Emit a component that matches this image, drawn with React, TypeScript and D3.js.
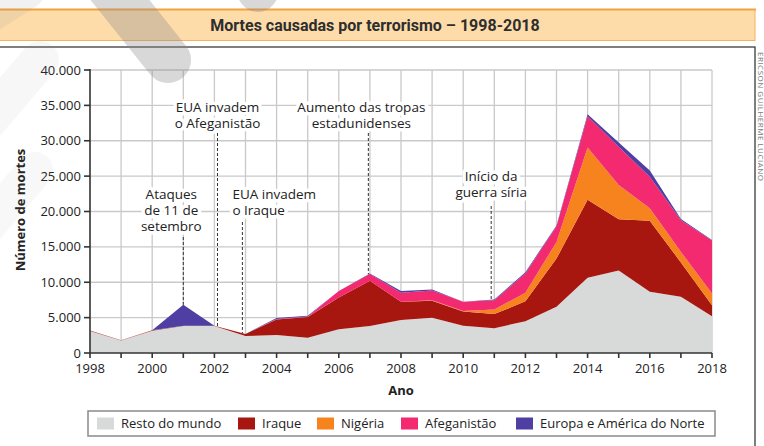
import * as d3 from "d3";

const years = d3.range(1998, 2019);

// deaths per series, 1998-2018
const restoDoMundo = [3100, 1750, 3150, 3800, 3800, 2400, 2550, 2150, 3350, 3800, 4650, 5000, 3850, 3500, 4500, 6550, 10650, 11650, 8650, 7950, 5200];
const iraque = [80, 60, 60, 60, 60, 300, 2200, 2950, 4500, 6400, 2600, 2400, 2000, 2000, 2800, 6800, 11000, 7250, 10050, 4850, 1550];
const nigeria = [0, 0, 0, 0, 0, 0, 0, 0, 0, 0, 0, 50, 100, 650, 1200, 2350, 7400, 4850, 1750, 1500, 1650];
const afeganistao = [0, 0, 0, 0, 0, 0, 50, 50, 930, 950, 1250, 1400, 1300, 1300, 2750, 2200, 4400, 5400, 4450, 4450, 7500];
const europaAmerica = [0, 0, 0, 2950, 0, 0, 150, 100, 0, 80, 250, 120, 0, 120, 180, 120, 300, 600, 900, 200, 60];

const seriesNames = ["Resto do mundo", "Iraque", "Nigéria", "Afeganistão", "Europa e América do Norte"];
const seriesColors = ["#d8d9d9", "#a8170f", "#f7831f", "#f42a70", "#4f3fa3"];
const seriesValues = [restoDoMundo, iraque, nigeria, afeganistao, europaAmerica];

const yTicks = d3.range(0, 40001, 5000);

const annotations = [
  { year: 2001, lines: ["Ataques", "de 11 de", "setembro"], anchor: "middle", dx: -12, top: 199, lineTop: 237 },
  { year: 2002.1, lines: ["EUA invadem", "o Afeganistão"], anchor: "middle", dx: 0, top: 112, lineTop: 133 },
  { year: 2002.9, lines: ["EUA invadem", "o Iraque"], anchor: "start", dx: -10, top: 199, lineTop: 222 },
  { year: 2006.95, lines: ["Aumento das tropas", "estadunidenses"], anchor: "middle", dx: -7, top: 112, lineTop: 133 },
  { year: 2010.9, lines: ["Início da", "guerra síria"], anchor: "middle", dx: 0, top: 181, lineTop: 206 },
];

const legendX = [97, 238, 317, 401, 516];

const W = 764;
const H = 446;
const font = "'Open Sans', 'Noto Sans', sans-serif";

export default function App() {
  const x = d3.scaleLinear().domain([1998, 2018]).range([90, 712]);
  const y = d3.scaleLinear().domain([0, 40000]).range([353, 70]);

  const table = years.map((yr, i) => {
    const row: any = { year: yr };
    seriesNames.forEach((n, k) => (row[n] = seriesValues[k][i]));
    return row;
  });
  const stacked = d3.stack().keys(seriesNames)(table);
  const area = d3
    .area<any>()
    .x((d) => x(d.data.year))
    .y0((d) => y(d[0]))
    .y1((d) => y(d[1]));

  const totals = years.map((_, i) => d3.sum(seriesValues, (s) => s[i]));
  const totalAt = (yr: number) => {
    const i = Math.min(Math.floor(yr - 1998), years.length - 2);
    const t = yr - 1998 - i;
    return totals[i] * (1 - t) + totals[i + 1] * t;
  };

  const fmt = (v: number) => d3.format(",")(v).replace(/,/g, ".");

  return (
    <svg width={W} height={H} style={{ position: "absolute", left: 0, top: 0 }} fontFamily={font}>
      <rect width={W} height={H} fill="#fff" />

      {/* title band */}
      <rect x={-1} y={9.5} width={756} height={31} fill="#fddcaa" stroke="#f6b25a" strokeWidth={1} />
      <line x1={0} x2={756} y1={9.5} y2={9.5} stroke="#f4a23c" strokeWidth={2} />
      <text
        x={375}
        y={31}
        textAnchor="middle"
        fontFamily="Roboto, 'Open Sans', sans-serif"
        fontWeight="bold"
        fontSize={16}
        fill="#2e2e2e"
      >
        Mortes causadas por terrorismo – 1998-2018
      </text>

      {/* frame */}
      <rect x={-2} y={47} width={757} height={420} fill="none" stroke="#3a3a3a" strokeWidth={1.3} />

      {/* grid */}
      <g stroke="#c9c9c9" strokeWidth={1.3}>
        {yTicks.slice(1).map((v) => (
          <line key={v} x1={x(1998)} x2={x(2018)} y1={y(v)} y2={y(v)} />
        ))}
        {years.slice(1).map((yr) => (
          <line key={yr} x1={x(yr)} x2={x(yr)} y1={y(0)} y2={y(40000)} />
        ))}
      </g>

      {/* annotation dashed lines */}
      {annotations.map((a) => (
        <line
          key={a.year}
          x1={x(a.year)}
          x2={x(a.year)}
          y1={a.lineTop}
          y2={y(totalAt(a.year))}
          stroke="#333"
          strokeWidth={1}
          strokeDasharray="3,2"
        />
      ))}

      {/* annotation labels */}
      {annotations.map((a) => {
        const cx = x(a.year) + a.dx;
        return (
          <text key={a.year} x={cx} textAnchor={a.anchor} fontSize={13.5} fill="#222" paintOrder="stroke" stroke="#fff" strokeWidth={7} strokeLinejoin="round">
            {a.lines.map((l, i) => (
              <tspan key={i} x={cx} y={a.top + i * 16}>
                {l}
              </tspan>
            ))}
          </text>
        );
      })}

      {/* areas */}
      {stacked.map((s, k) => (
        <path key={s.key} d={area(s as any) || ""} fill={seriesColors[k]} />
      ))}

      {/* axes */}
      <g stroke="#333" strokeWidth={1.6}>
        <line x1={x(1998)} x2={x(1998)} y1={y(40000) - 1} y2={y(0)} />
        <line x1={x(1998)} x2={x(2018)} y1={y(0)} y2={y(0)} />
        {yTicks.map((v) => (
          <line key={v} x1={x(1998) - 6} x2={x(1998)} y1={y(v)} y2={y(v)} />
        ))}
        {years.map((yr) => (
          <line key={yr} x1={x(yr)} x2={x(yr)} y1={y(0)} y2={y(0) + 5} />
        ))}
      </g>
      <g fontSize={13} fill="#222">
        {yTicks.map((v) => (
          <text key={v} x={81} y={y(v) + 4.5} textAnchor="end">
            {fmt(v)}
          </text>
        ))}
        {years
          .filter((yr) => yr % 2 === 0)
          .map((yr) => (
            <text key={yr} x={x(yr)} y={373} textAnchor="middle">
              {yr}
            </text>
          ))}
      </g>
      <text x={401} y={395} textAnchor="middle" fontSize={13} fontWeight="bold" fill="#222">
        Ano
      </text>
      <text transform="translate(25,210) rotate(-90)" textAnchor="middle" fontSize={13} fontWeight="bold" fill="#222">
        Número de mortes
      </text>

      {/* legend */}
      <rect x={88} y={411} width={627} height={25} fill="#fff" stroke="#8a8a8a" strokeWidth={1.5} />
      {seriesNames.map((n, k) => (
        <g key={n}>
          <rect x={legendX[k]} y={417.5} width={17} height={12} fill={seriesColors[k]} />
          <text x={legendX[k] + 24} y={428} fontSize={13} fill="#222">
            {n}
          </text>
        </g>
      ))}

      {/* side credit */}
      <text transform="translate(758,52) rotate(90)" fontSize={8} fill="#777" letterSpacing={0.5}>
        ERICSON GUILHERME LUCIANO
      </text>

      {/* watermark */}
      <g stroke="#8a8a8a" strokeLinecap="round" fill="none">
        <line x1={100} y1={-25} x2={168} y2={60} strokeWidth={46} opacity={0.33} />
        <line x1={238} y1={-35} x2={258} y2={-8} strokeWidth={40} opacity={0.33} />
        <line x1={-30} y1={25} x2={25} y2={-10} strokeWidth={40} opacity={0.12} />
        <line x1={-20} y1={130} x2={40} y2={60} strokeWidth={38} opacity={0.07} />
        <line x1={-20} y1={235} x2={35} y2={170} strokeWidth={36} opacity={0.06} />
      </g>
    </svg>
  );
}
